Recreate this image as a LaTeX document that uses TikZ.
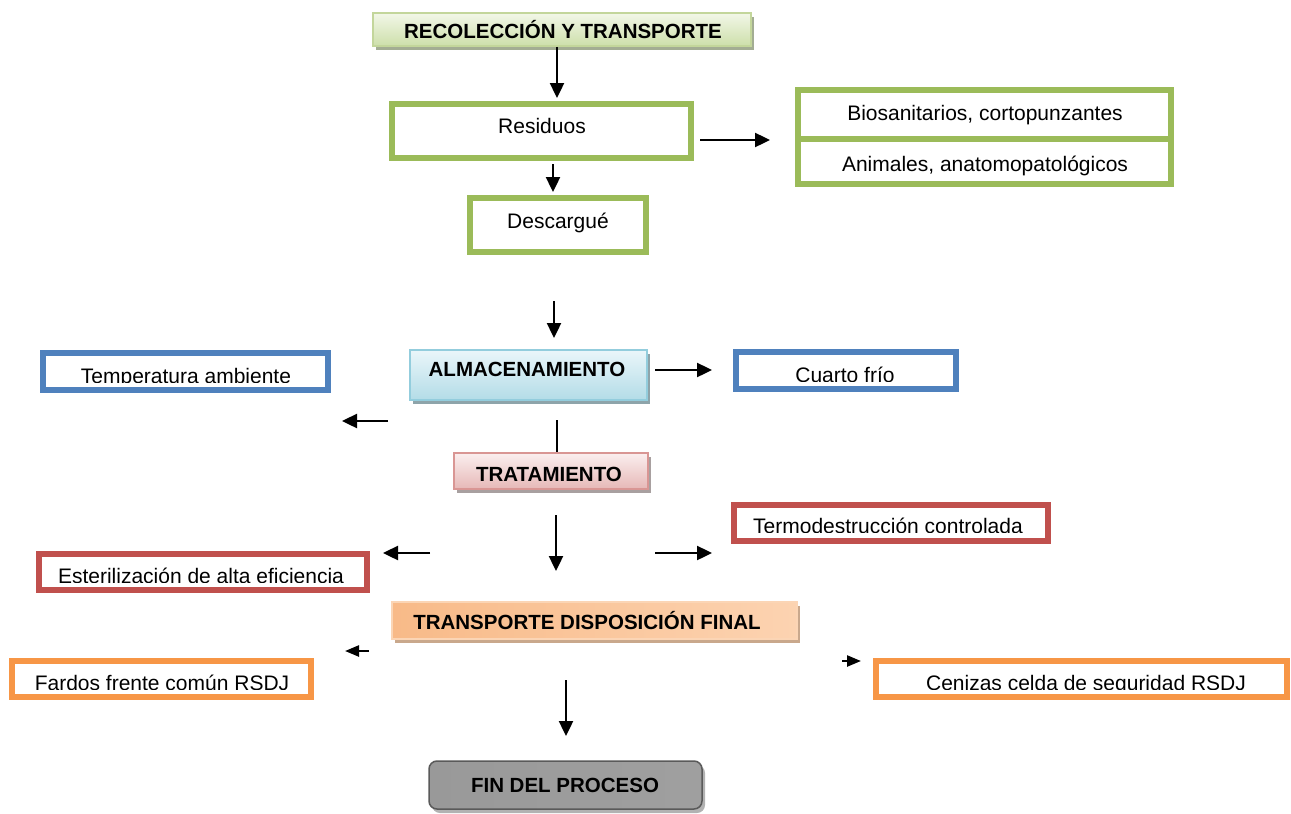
\documentclass[tikz,border=0pt]{standalone}
\usepackage{fontspec}
\setmainfont{Liberation Sans}
\usetikzlibrary{arrows.meta,shadows}

\definecolor{grn}{HTML}{9BBB59}
\definecolor{blu}{HTML}{4F81BD}
\definecolor{rd}{HTML}{C0504D}
\definecolor{org}{HTML}{F79646}
\definecolor{recolB}{HTML}{C3D69B}
\definecolor{recolT}{HTML}{F2F7E8}
\definecolor{recolD}{HTML}{CDDFAA}
\definecolor{recolS}{HTML}{A3AD93}
\definecolor{almB}{HTML}{93CDDD}
\definecolor{almT}{HTML}{EAF6FA}
\definecolor{almD}{HTML}{B3DCE7}
\definecolor{almS}{HTML}{8EA4AA}
\definecolor{traB}{HTML}{D99694}
\definecolor{traT}{HTML}{FBEFEF}
\definecolor{traD}{HTML}{E6B8B7}
\definecolor{traS}{HTML}{A8A0A0}
\definecolor{tdfB}{HTML}{FBD5B5}
\definecolor{tdfL}{HTML}{F8BA88}
\definecolor{tdfM}{HTML}{FDE9D9}
\definecolor{tdfR}{HTML}{FCD3B1}
\definecolor{tdfS}{HTML}{C9A88C}
\definecolor{finB}{HTML}{5A5A5A}

\tikzset{
  frame/.style={draw=#1, line width=6pt, fill=white, inner sep=0pt},
  lbl/.style={font=\fontsize{21}{25}\selectfont, inner sep=0pt, anchor=base},
  headtxt/.style={font=\bfseries\fontsize{20.5}{24}\selectfont, inner sep=0pt, anchor=base},
  stage/.style={line width=1.5pt, inner sep=0pt,
    drop shadow={shadow xshift=3pt, shadow yshift=-4pt, fill=#1, opacity=1}},
  arr/.style={line width=2.4pt, -{Triangle[length=15pt,width=14pt]}},
  smallarr/.style={line width=2.4pt, -{Triangle[length=14pt,width=11pt]}},
  link/.style={line width=2.4pt},
}

% text set on its baseline and cut just above it by the frame's inner area
\newcommand\clippedlabel[7]{%
  \begin{scope}
    \clip (#2,#3) rectangle (#4,#5-1);
    \node[lbl] (#1) at (#6,#5) {#7};
  \end{scope}}

\begin{document}
\begin{tikzpicture}[x=1pt,y=-1pt]
\useasboundingbox (0,0) rectangle (1291,814);
\fill[white] (0,0) rectangle (1291,814);

% ---- stage headers
\node[stage=recolS, draw=recolB, top color=recolT, bottom color=recolD,
      minimum width=378, minimum height=33] (recol) at (562,29.5) {};
\node[headtxt] (recolText) at (563,38) {RECOLECCIÓN Y TRANSPORTE};

\node[stage=almS, draw=almB, top color=almT, bottom color=almD,
      minimum width=237, minimum height=50] (almac) at (528.5,375) {};
\node[headtxt] (almacText) at (527,376) {ALMACENAMIENTO};

\node[stage=traS, draw=traB, top color=traT, bottom color=traD,
      minimum width=194, minimum height=36] (trat) at (551,471) {};
\node[headtxt] (tratText) at (549,481) {TRATAMIENTO};

\node[stage=tdfS, draw=tdfB, left color=tdfL, middle color=tdfM, right color=tdfR,
      minimum width=405, minimum height=37] (tdf) at (594.5,620.5) {};
\node[headtxt] (tdfText) at (587,629) {TRANSPORTE DISPOSICIÓN FINAL};

\node[stage=gray!60, draw=finB, rounded corners=8pt,
      left color=gray!80, middle color=gray!12, right color=gray!75,
      minimum width=273, minimum height=48] (fin) at (565.5,785) {};
\node[headtxt] (finText) at (565,792) {FIN DEL PROCESO};

% ---- green frames
\node[frame=grn, minimum width=299, minimum height=54] (resid) at (541.5,131) {};
\node[lbl] (residText) at (542,133) {Residuos};
\node[frame=grn, minimum width=176, minimum height=54] (desc) at (558,225) {};
\node[lbl] (descText) at (558,228) {Descargué};
\node[frame=grn, minimum width=373, minimum height=49] (bio) at (984.5,114.5) {};
\node[lbl] (bioText) at (985,120) {Biosanitarios, cortopunzantes};
\node[frame=grn, minimum width=373, minimum height=45] (ani) at (984.5,161.5) {};
\node[lbl] (aniText) at (985,171) {Animales, anatomopatológicos};

% ---- blue frames
\node[frame=blu, minimum width=285, minimum height=37] (temp) at (185.5,371.5) {};
\clippedlabel{tempText}{46}{356}{325}{383}{186}{Temperatura ambiente}
\node[frame=blu, minimum width=220, minimum height=37] (cuarto) at (846,370.5) {};
\clippedlabel{cuartoText}{739}{355}{953}{382}{845}{Cuarto frío}

% ---- red frames
\node[frame=rd, minimum width=314, minimum height=36] (termo) at (891,523) {};
\clippedlabel{termoText}{737}{508}{1045}{533}{888}{Termodestrucción controlada}
\node[frame=rd, minimum width=328, minimum height=36] (ester) at (203,572) {};
\clippedlabel{esterText}{42}{557}{364}{583}{201}{Esterilización de alta eficiencia}

% ---- orange frames
\node[frame=org, minimum width=299, minimum height=36] (fardos) at (161.5,679) {};
\clippedlabel{fardosText}{15}{664}{308}{690}{162}{Fardos frente común RSDJ}
\node[frame=org, minimum width=411, minimum height=36] (ceniz) at (1081.5,679) {};
\clippedlabel{cenizText}{879}{664}{1284}{690}{1086}{Cenizas celda de seguridad RSDJ}

% ---- connectors
\draw[arr, shorten >=3pt] (recol.south -| 557,0) -- (resid.north -| 557,0);
\draw[arr, shorten >=3pt, shorten <=3pt] (resid.south -| 553,0) -- (desc.north -| 553,0);
\coordinate (a1) at (700,140); \coordinate (b1) at (770,140);
\draw[arr] (a1) -- (b1);
\coordinate (a2) at (554,301); \coordinate (b2) at (554,338);
\draw[arr] (a2) -- (b2);
\coordinate (a3) at (655,370); \coordinate (b3) at (712,370);
\draw[arr] (a3) -- (b3);
\coordinate (a4) at (388,421); \coordinate (b4) at (342,421);
\draw[arr] (a4) -- (b4);
\coordinate (a5) at (557,420);
\draw[link] (a5) -- (trat.north -| a5);
\coordinate (a6) at (556,515); \coordinate (b6) at (556,571);
\draw[arr] (a6) -- (b6);
\coordinate (a7) at (430,553); \coordinate (b7) at (383,553);
\draw[arr] (a7) -- (b7);
\coordinate (a8) at (655,553); \coordinate (b8) at (712,553);
\draw[arr] (a8) -- (b8);
\coordinate (a9) at (369,651); \coordinate (b9) at (345,651);
\draw[smallarr] (a9) -- (b9);
\coordinate (a10) at (842,661); \coordinate (b10) at (861,661);
\draw[smallarr] (a10) -- (b10);
\coordinate (a11) at (566,680); \coordinate (b11) at (566,736);
\draw[arr] (a11) -- (b11);
\end{tikzpicture}
\end{document}
